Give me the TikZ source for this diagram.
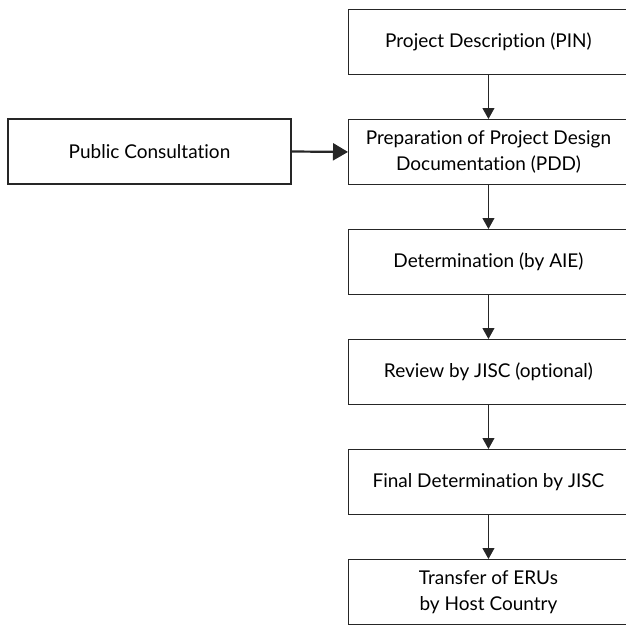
\documentclass[tikz,border=0pt]{standalone}
\usepackage{fontspec}
\setmainfont{Lato}[RawFeature=-liga]
\usetikzlibrary{arrows.meta}
\begin{document}
\begin{tikzpicture}[x=1pt,y=-1pt,
  txt/.style={font=\fontsize{19}{26}\selectfont},
  stepbox/.style={txt,draw=black!85,line width=0.9pt,minimum width=280pt,minimum height=65pt,inner sep=0pt,align=center,anchor=north west},
  pubbox/.style={txt,draw=black!85,line width=2pt,minimum width=283pt,minimum height=65pt,inner sep=0pt,align=center},
  flow/.style={draw=black!85,line width=0.9pt,-{Triangle[length=11pt,width=12pt]}},
  thickflow/.style={draw=black!85,line width=2.2pt,-{Triangle[length=15pt,width=17pt]}}]
\useasboundingbox (0,0) rectangle (626,624);
\begin{scope}
\clip (0,0) rectangle (626,624);
\node[stepbox] (pin) at (348,9) {Project Description (PIN)};
\node[stepbox] (pdd) at (348,119) {Preparation of Project Design\\Documentation (PDD)};
\node[stepbox] (det) at (348,229) {Determination (by AIE)};
\node[stepbox] (rev) at (348,339) {Review by JISC (optional)};
\node[stepbox] (fin) at (348,449) {Final Determination by JISC};
\node[stepbox] (tra) at (348,559) {Transfer of ERUs\\by Host Country};
\end{scope}
\node[pubbox] (pub) at (149.5,151.5) {Public Consultation};
\draw[flow] (pin.south) -- (pdd.north);
\draw[flow] (pdd.south) -- (det.north);
\draw[flow] (det.south) -- (rev.north);
\draw[flow] (rev.south) -- (fin.north);
\draw[flow] (fin.south) -- (tra.north);
\draw[thickflow] (pub.east) -- (pdd.west);
\end{tikzpicture}
\end{document}
